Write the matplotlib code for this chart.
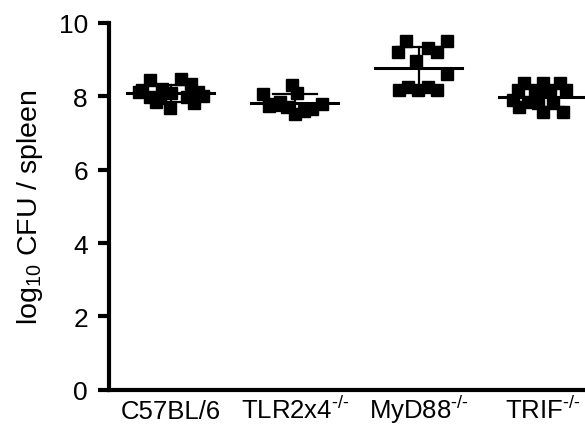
import numpy as np
import matplotlib
matplotlib.use("Agg")
import matplotlib.pyplot as plt

plt.rcParams['font.family'] = ['Liberation Sans', 'DejaVu Sans']
plt.rcParams['mathtext.fontset'] = 'custom'
plt.rcParams['mathtext.rm'] = 'Liberation Sans'
plt.rcParams['mathtext.it'] = 'Liberation Sans:italic'
plt.rcParams['mathtext.default'] = 'regular'

categories = ['C57BL/6', 'TLR2x4$^{\\text{-/-}}$', 'MyD88$^{\\text{-/-}}$', 'TRIF$^{\\text{-/-}}$']

c57_values = [8.43, 8.48, 8.18, 8.20, 8.32, 8.10, 8.00, 8.08, 7.97, 7.67, 7.80, 7.94, 8.10, 7.97, 7.85]
c57_offsets = [-0.17, 0.08, -0.23, -0.07, 0.16, 0.22, 0.26, 0.0, -0.17, -0.01, 0.19, -0.09, -0.26, 0.13, -0.12]

tlr_values = [8.31, 8.05, 8.08, 7.85, 7.78, 7.78, 7.70, 7.65, 7.52, 7.60, 7.72]
tlr_offsets = [-0.02, -0.26, 0.02, -0.12, -0.16, 0.22, -0.06, 0.14, 0.0, 0.07, -0.21]

myd_values = [9.49, 9.21, 9.32, 9.19, 9.49, 8.97, 8.59, 8.18, 8.24, 8.18, 8.24, 8.18]
myd_offsets = [-0.10, -0.17, 0.07, 0.15, 0.23, -0.02, 0.23, -0.16, -0.09, -0.01, 0.07, 0.15]

trif_values = [8.35, 8.35, 8.35, 8.16, 8.16, 8.16, 8.16, 7.90, 7.83, 7.80, 7.80, 7.56, 7.56, 7.70]
trif_offsets = [-0.15, 0.0, 0.14, -0.20, -0.06, 0.06, 0.19, -0.24, -0.12, -0.04, 0.08, 0.0, 0.16, -0.19]

groups = [(c57_values, c57_offsets), (tlr_values, tlr_offsets),
          (myd_values, myd_offsets), (trif_values, trif_offsets)]

fig = plt.figure(figsize=(5.85, 4.31), dpi=100)
ax = fig.add_axes([0.186, 0.093, 0.814, 0.852])

for i, (vals, offs) in enumerate(groups):
    vals = np.array(vals)
    xs = i + np.array(offs)
    ax.plot(xs, vals, 's', color='black', markersize=8, zorder=3, clip_on=False)
    m = vals.mean()
    sd = vals.std(ddof=1)
    ax.plot([i - 0.35, i + 0.35], [m, m], color='black', lw=2.2, zorder=4)
    ax.plot([i, i], [m - sd, m + sd], color='black', lw=1.6, zorder=4)
    for y in (m - sd, m + sd):
        ax.plot([i - 0.18, i + 0.18], [y, y], color='black', lw=1.6, zorder=4)

ax.set_xlim(-0.5, 3.34)
ax.set_ylim(0, 10)
ax.set_yticks([0, 2, 4, 6, 8, 10])
ax.set_xticks(range(4))
ax.set_xticklabels(categories, fontsize=18.5)
for lbl in ax.get_xticklabels():
    lbl.set_verticalalignment('baseline')
ax.tick_params(axis='x', length=0, pad=20)
ax.tick_params(axis='y', length=8, width=3, labelsize=19, pad=7)
for s in ['top', 'right']:
    ax.spines[s].set_visible(False)
for s in ['left', 'bottom']:
    ax.spines[s].set_linewidth(3)
ax.set_ylabel('log$_{10}$ CFU / spleen', fontsize=20.5, labelpad=10)
ax.yaxis.set_label_coords(-0.135, 0.5)

fig.savefig('out.png', dpi=100)
